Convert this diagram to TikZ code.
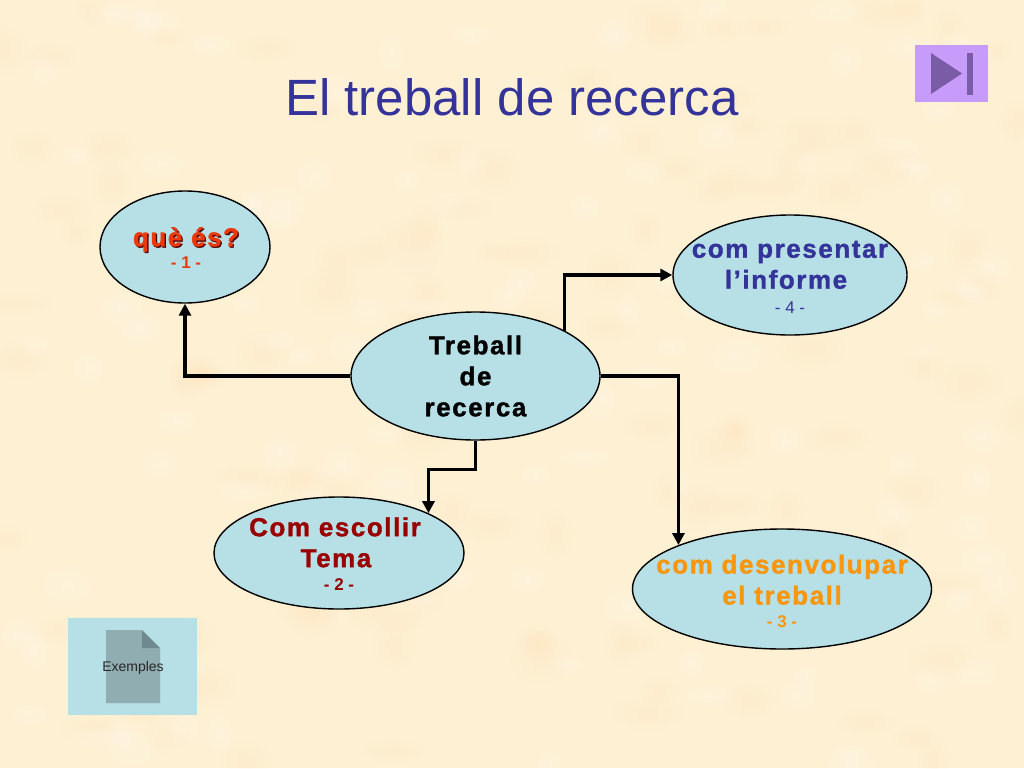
\documentclass[tikz,border=0pt]{standalone}
\usepackage{fontspec}
\setmainfont{Liberation Sans}
\newfontfamily\spaced[LetterSpace=6,FakeBold=1.2]{Liberation Sans Bold}
\usetikzlibrary{shapes.geometric,arrows.meta,fadings}
\definecolor{paper}{HTML}{FDF0D3}
\definecolor{pool}{HTML}{B7DFE6}
\definecolor{titleblue}{HTML}{333399}
\definecolor{btnviolet}{HTML}{C79BFA}
\definecolor{btndark}{HTML}{7A5CA6}
\definecolor{docgrey}{HTML}{90ADB1}
\definecolor{foldgrey}{HTML}{6F8A8E}
\definecolor{redtxt}{HTML}{EA3A0C}
\definecolor{darkred}{HTML}{990000}
\definecolor{orangetxt}{HTML}{F7960F}
\newcommand{\num}[1]{{\fontsize{17}{17}\selectfont\normalfont #1}}
\newcommand{\numb}[1]{{\fontsize{17}{17}\selectfont\normalfont\bfseries #1}}
\newcommand{\shadowed}[1]{\makebox[0pt][l]{\hspace{1.3pt}\raisebox{-1.3pt}{\color{darkred!55!black}#1}}#1}
\tikzfading[name=blob, inner color=transparent!0, outer color=transparent!100]
\tikzset{
  x=1pt,y=-1pt,
  bub/.style={ellipse,draw=black,line width=1.4pt,fill=pool,inner sep=0pt},
  lab/.style={align=center,inner sep=0pt,font=\fontsize{26}{31}\selectfont\spaced},
  link/.style={draw=black,line width=3.3pt,-{Stealth[length=12pt,width=12pt,inset=0pt]}},
}
\begin{document}
\begin{tikzpicture}
\useasboundingbox (0,0) rectangle (1024,768);
\fill[paper] (0,0) rectangle (1024,768);
\pgfmathsetseed{11}
\begin{scope}
\clip (0,0) rectangle (1024,768);
\foreach \i in {1,...,260}{
  \pgfmathsetmacro{\px}{random(0,1024)}
  \pgfmathsetmacro{\py}{random(0,768)}
  \pgfmathsetmacro{\rx}{random(16,36)}
  \pgfmathsetmacro{\ry}{random(12,26)}
  \ifodd\i\relax
    \fill[white,opacity=.20,path fading=blob] (\px,\py) ellipse [x radius=\rx pt,y radius=\ry pt];
  \else
    \fill[orange!30!paper,opacity=.10,path fading=blob] (\px,\py) ellipse [x radius=\rx pt,y radius=\ry pt];
  \fi
}
\end{scope}

\node[text=titleblue,font=\fontsize{51}{60}\selectfont] (title) at (512,97) {El treball de recerca};

\node[bub,minimum width=170pt,minimum height=112pt] (que) at (185,247) {};
\node[bub,minimum width=234pt,minimum height=120pt] (pres) at (790,275) {};
\node[bub,minimum width=249pt,minimum height=128pt] (tre) at (475.5,376) {};
\node[bub,minimum width=250pt,minimum height=112pt] (esc) at (339,553) {};
\node[bub,minimum width=299pt,minimum height=120pt] (des) at (782,589) {};

\node[lab,text=redtxt] (quet) at (186,248) {\shadowed{què és?}\\[-8.5pt]\numb{- 1 -}};
\node[lab,text=titleblue] (prest) at (790,277) {com presentar\\l’informe\rule{8pt}{0pt}\\[-6.5pt]\num{- 4 -}};
\node[lab,text=black] (tret) at (475.5,376) {Treball\\de\\recerca};
\node[lab,text=darkred] (esct) at (335,554) {Com escollir\\\rule{2pt}{0pt}Tema\\[-7.5pt]\numb{\rule{8pt}{0pt}- 2 -}};
\node[lab,text=orangetxt] (dest) at (782,591) {com desenvolupar\\el treball\\[-8.5pt]\numb{- 3 -}};

\coordinate (treNE) at (tre.27.5);
\coordinate (desNW) at (des.157.6);
\coordinate (escNE) at (esc.24.4);
\draw[link] (tre.west) -| (que.south);
\draw[link] (treNE) |- (pres.west);
\draw[link] (tre.east) -| (desNW);
\draw[link] (tre.south) -- ++(0,29) -| (escNE);

\fill[btnviolet] (915,45) rectangle (988,102);
\fill[btndark] (931,53) -- (962,73.5) -- (931,94) -- cycle;
\fill[btndark] (967,53) rectangle (973,95);

\fill[pool] (68,618) rectangle (197,715);
\fill[docgrey] (106,630) -- (142,630) -- (160,648) -- (160,703) -- (106,703) -- cycle;
\fill[foldgrey] (142,630) -- (160,648) -- (142,648) -- cycle;
\node[text=black!85,font=\fontsize{14}{16}\selectfont] (ex) at (133,667.5) {Exemples};
\end{tikzpicture}
\end{document}
